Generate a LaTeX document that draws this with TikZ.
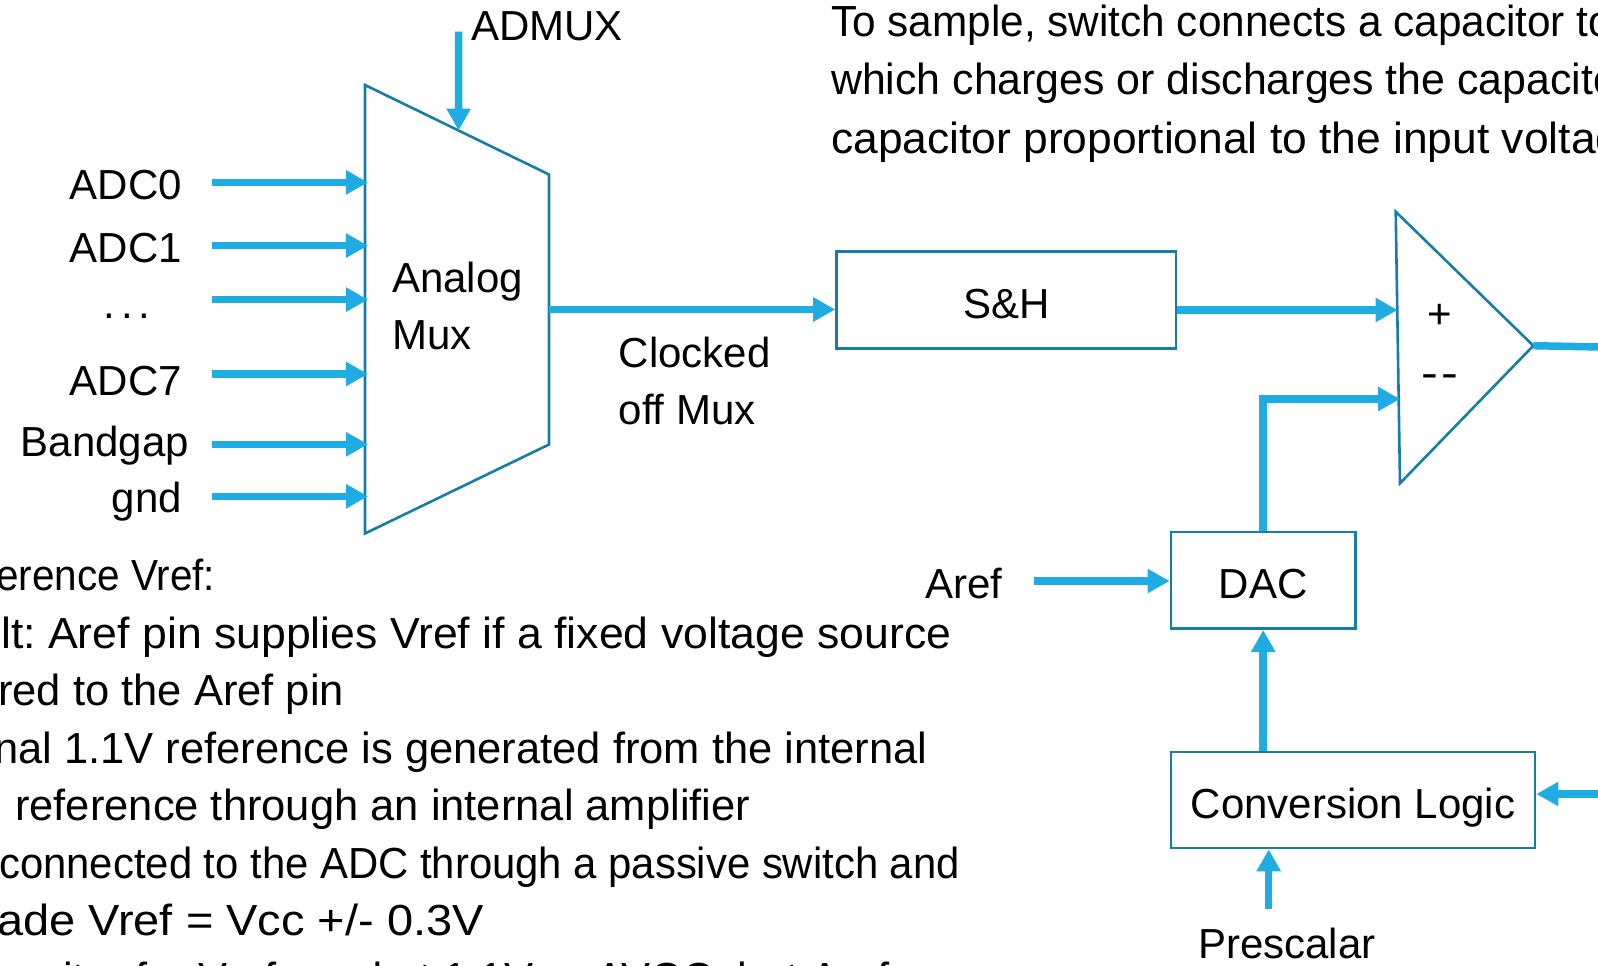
\documentclass[tikz,border=0pt]{standalone}
\usepackage{fontspec}
\usepackage{graphicx}
\setmainfont{Liberation Sans}
\usetikzlibrary{arrows.meta,calc}
\definecolor{sigblue}{RGB}{30,172,226}
\definecolor{edgeblue}{RGB}{22,125,165}
\frenchspacing
\begin{document}
\begin{tikzpicture}[x=1pt,y=-1pt,
  lbl/.style={font=\fontsize{42}{50}\selectfont, inner sep=0pt, text=black},
  body/.style={font=\fontsize{43.5}{58}\selectfont, inner sep=0pt, anchor=base west, text=black},
  blk/.style={draw=edgeblue, line width=2.8pt, inner sep=0pt, text height=36pt, text depth=0pt, font=\fontsize{42}{50}\selectfont},
  sig/.style={draw=sigblue, line width=7.5pt, -{Triangle[length=22pt,width=23pt]}},
  wire/.style={draw=sigblue, line width=7.5pt},
  outl/.style={draw=edgeblue, line width=2.6pt, line join=miter}]
\useasboundingbox (0,0) rectangle (1598,966);

% --- analog mux ---
\coordinate (mtl) at (365,85);
\coordinate (mbl) at (365,533.5);
\coordinate (mtr) at (549,174.5);
\coordinate (mbr) at (549,444.5);
\draw[outl] (mtl) -- (mtr) -- (mbr) -- (mbl) -- cycle;
\node[lbl, anchor=base west] (analog) at (392,292) {Analog};
\node[lbl, anchor=base west] (muxt) at (392,349.5) {Mux};

% inputs
\foreach \y/\n in {182.4/0,245.6/1,299.6/2,374/3,444.3/4,496.3/5}{
  \coordinate (in\n) at (212,\y);
  \coordinate (mx\n) at (368,\y);
  \draw[sig] (in\n) -- (mx\n);
}
\node[lbl, anchor=base east] (l0) at (182,199) {ADC0};
\node[lbl, anchor=base east] (l1) at (182,262) {ADC1};
\node[lbl, anchor=base] (l2) at (127,318) {.\hspace{6pt}.\hspace{6pt}.};
\node[lbl, anchor=base east] (l3) at (182,395) {ADC7};
\node[lbl, anchor=base east] (l4) at (189,456) {Bandgap};
\node[lbl, anchor=base east] (l5) at (182,512) {gnd};

% ADMUX
\node[lbl, anchor=base west] (admux) at (471,41) {ADMUX};
\coordinate (admuxtop) at (458.6,31.6);
\coordinate (admuxin) at ($(mtl)!0.5087!(mtr)$);
\draw[sig] (admuxtop) -- (admuxin);

% S&H
\coordinate (mout) at (549,309.5);
\node[blk, minimum width=339.4pt, minimum height=96.8pt] (sh) at (1006.3,300.1) {S\&H};
\draw[sig] (mout) -- (sh.west |- mout);
\node[lbl, anchor=base west] (clk1) at (618.5,367) {Clocked};
\node[lbl, anchor=base west] (clk2) at (618.5,424) {off Mux};

% comparator
\coordinate (ct) at (1395.7,211.7);
\coordinate (cb) at (1400,483.3);
\coordinate (ca) at (1533.3,345.7);
\draw[outl] (ct) -- (ca) -- (cb) -- cycle;
\node[lbl, anchor=base] (plus) at (1440,328) {+};
\node[lbl, anchor=base] (minus) at (1440,387) {\scalebox{1.2}[1]{-\kern3pt-}};
\coordinate (pin) at (1397.5,310);
\draw[sig] (sh.east |- pin) -- (pin);
\coordinate (cout) at (1600,347);
\draw[wire] (ca) -- (cout);

% DAC
\node[blk, minimum width=184.3pt, minimum height=96.7pt] (dac) at (1263.2,580.3) {DAC};
\coordinate (nin) at (1400,399);
\draw[sig] (dac.north) |- (nin);
\node[lbl, anchor=base west] (aref) at (925,598) {Aref};
\coordinate (arefs) at (1034,581);
\draw[sig] (arefs) -- (dac.west |- arefs);

% conversion logic
\node[blk, minimum width=364pt, minimum height=96pt] (conv) at (1353,800) {Conversion Logic};
\draw[sig] (conv.north -| dac.south) -- (dac.south);
\coordinate (ctl) at (1600,794);
\draw[sig] (ctl) -- (conv.east |- ctl);
\coordinate (pres) at (1268.7,909);
\draw[sig] (pres) -- (conv.south -| pres);
\node[lbl, anchor=base west] (presc) at (1198,958) {Prescalar};

% text top right
\node[body] (t1) at (831,37) {\scalebox{0.973}[1]{To sample, switch connects a capacitor to}};
\node[body] (t2) at (831,95) {\scalebox{0.985}[1]{which charges or discharges the capacitor}};
\node[body] (t3) at (831,153) {\scalebox{1.02}[1]{capacitor proportional to the input voltage}};

% text bottom left
\node[body] (b1) at (-4,590) {\scalebox{0.93}[1]{erence Vref:}};
\node[body] (b2) at (1,648) {\scalebox{1.025}[1]{lt: Aref pin supplies Vref if a fixed voltage source}};
\node[body] (b3) at (-2,705.5) {red to the Aref pin};
\node[body] (b4) at (-6,763) {nal 1.1V reference is generated from the internal};
\node[body] (b5) at (15,820.5) {reference through an internal amplifier};
\node[body] (b6) at (-1,878) {\scalebox{0.962}[1]{connected to the ADC through a passive switch and}};
\node[body] (b7) at (-3,935.5) {\scalebox{1.08}[1]{ade Vref = Vcc +/- 0.3V}};
\node[body] (b8) at (-53,993) {capacitor for Vref used at 1.1V or AVCC, but Aref};
\end{tikzpicture}
\end{document}
